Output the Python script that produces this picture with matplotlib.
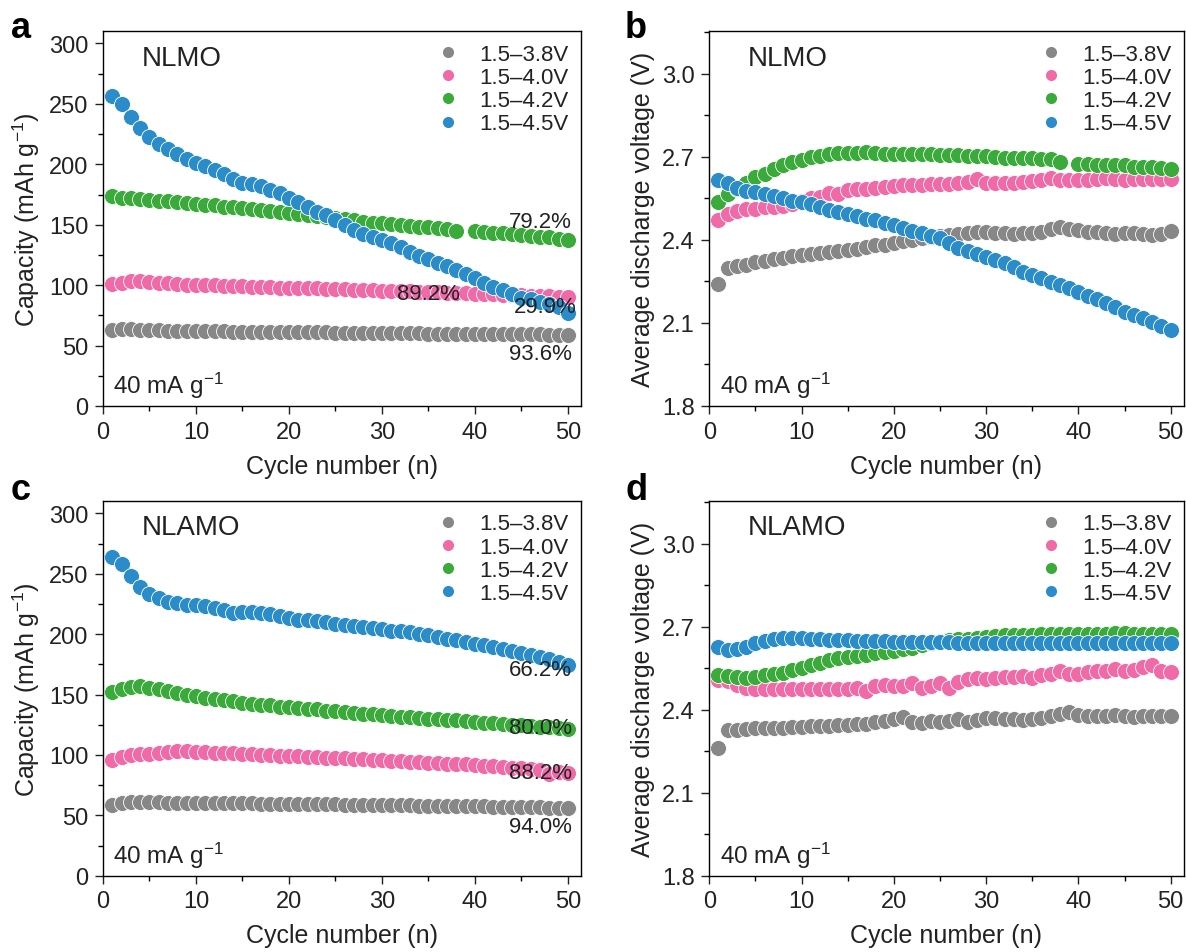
import numpy as np
import matplotlib
matplotlib.use('Agg')
import matplotlib.pyplot as plt
from matplotlib.lines import Line2D

plt.rcParams['font.family'] = ['Liberation Sans', 'DejaVu Sans']
plt.rcParams['mathtext.fontset'] = 'custom'
plt.rcParams['mathtext.rm'] = 'Liberation Sans'
plt.rcParams['mathtext.it'] = 'Liberation Sans:italic'
plt.rcParams['axes.linewidth'] = 1.0

nan = np.nan
cycles = np.arange(1, 51)
labels = ['1.5–3.8V', '1.5–4.0V', '1.5–4.2V', '1.5–4.5V']
colors = ['#878787', '#f06aa8', '#3aaa3a', '#2a8cc8']

# NLMO capacity (a)
cap_nlmo_38 = [63, 64, 63.5, 63, 62.5, 62.5, 62, 62, 62, 62, 62, 61.8, 61.8, 61.5, 61.5, 61.5, 61.3, 61.3, 61, 61,
               61, 61, 60.8, 60.8, 60.5, 60.5, 60.5, 60.3, 60.3, 60.2, 60, 60, 60, 60, 59.8, 59.8, 59.8, 59.6, 59.6, 59.5,
               59.5, 59.4, 59.4, 59.3, 59.3, 59.2, 59.2, 59.1, 59.1, 59]
cap_nlmo_40 = [101, 102, 103, 103.5, 102.5, 102, 101.5, 101, 100.5, 100.3, 100, 99.8, 99.5, 99.3, 99, 98.8, 98.5, 98.3, 98, 98,
               97.8, 97.5, 97.3, 97, 96.8, 96.5, 96.3, 96, 95.8, 95.5, 95.3, 95, 94.8, 94.5, 94.3, 94, 93.8, 93.5, 93.3, 93,
               92.8, 92.5, 92.2, 92, 91.7, 91.4, 91.1, 90.8, 90.5, 90.2]
cap_nlmo_42 = [173.5, 172.5, 172, 171.5, 170.5, 170, 169.5, 169, 168, 167.5, 166.5, 166, 165, 164.5, 163.5, 163, 162, 161.5, 160.5, 160,
               159, 158, 157, 156, 155.5, 154.5, 153.5, 152.5, 151.5, 151, 150.5, 150, 149, 148.5, 148, 147, 146.5, 145, nan, 144.5,
               144, 143.5, 143, 142, 141.5, 141, 140, 139.5, 138.5, 137.5]
cap_nlmo_45 = [256.8, 249.6, 239.5, 229.8, 222.4, 216.9, 212.5, 208.6, 204.8, 200.9, 198.2, 194.9, 191.6, 187.7, 184.4, 183.3, 181.7, 178.9, 176.2, 172.3,
               168.5, 164.6, 160.7, 158, 154.1, 149.7, 145.9, 142.6, 139.8, 137.1, 134.9, 131.6, 127.7, 124.4, 121.7, 118.4, 115.6, 112.9, 109.6, 105.7,
               101.8, 98.5, 95.8, 92.5, 89.7, 88.1, 85.9, 84.2, 81.5, 77.1]

# NLMO average discharge voltage (b)
v_nlmo_38 = [2.24, 2.30, 2.305, 2.31, 2.32, 2.325, 2.33, 2.335, 2.34, 2.345, 2.35, 2.352, 2.355, 2.36, 2.363, 2.368, 2.375, 2.38, 2.382, 2.39,
             2.395, 2.40, 2.405, 2.41, 2.415, 2.418, 2.42, 2.425, 2.43, 2.43, 2.425, 2.425, 2.42, 2.425, 2.425, 2.43, 2.44, 2.445, 2.44, 2.435,
             2.43, 2.43, 2.425, 2.42, 2.423, 2.425, 2.42, 2.418, 2.42, 2.432]
v_nlmo_40 = [2.47, 2.495, 2.505, 2.51, 2.513, 2.517, 2.52, 2.522, 2.53, 2.54, 2.55, 2.555, 2.57, 2.565, 2.58, 2.583, 2.585, 2.588, 2.59, 2.593,
             2.597, 2.598, 2.598, 2.60, 2.60, 2.603, 2.605, 2.61, 2.618, 2.607, 2.605, 2.605, 2.607, 2.61, 2.612, 2.615, 2.622, 2.615, 2.615, 2.617,
             2.617, 2.618, 2.622, 2.62, 2.617, 2.618, 2.62, 2.62, 2.62, 2.62]
v_nlmo_42 = [2.537, 2.567, 2.585, 2.605, 2.626, 2.638, 2.656, 2.67, 2.68, 2.689, 2.698, 2.704, 2.71, 2.713, 2.714, 2.713, 2.716, 2.712, 2.711, 2.711,
             2.71, 2.71, 2.709, 2.709, 2.708, 2.706, 2.705, 2.704, 2.703, 2.702, 2.698, 2.697, 2.696, 2.695, 2.694, 2.693, 2.691, 2.683, nan, 2.674,
             2.673, 2.672, 2.672, 2.671, 2.67, 2.664, 2.663, 2.662, 2.661, 2.656]
v_nlmo_45 = [2.617, 2.605, 2.587, 2.578, 2.572, 2.566, 2.56, 2.552, 2.542, 2.537, 2.528, 2.519, 2.509, 2.50, 2.492, 2.485, 2.477, 2.471, 2.461, 2.453,
             2.441, 2.432, 2.423, 2.413, 2.405, 2.387, 2.372, 2.36, 2.349, 2.339, 2.327, 2.315, 2.303, 2.285, 2.273, 2.261, 2.249, 2.237, 2.225, 2.213,
             2.198, 2.186, 2.171, 2.159, 2.141, 2.129, 2.117, 2.105, 2.087, 2.075]

# NLAMO capacity (c)
cap_nlamo_38 = [58.5, 60.5, 61, 61, 60.8, 60.7, 60.6, 60.5, 60.5, 60.4, 60.3, 60.2, 60.2, 60.1, 60, 59.9, 59.8, 59.7, 59.6, 59.5,
                59.4, 59.3, 59.2, 59.1, 59, 58.9, 58.8, 58.7, 58.6, 58.5, 58.4, 58.3, 58.2, 58.1, 58, 57.9, 57.8, 57.7, 57.6, 57.5,
                57.4, 57.3, 57.2, 57.0, 56.9, 56.7, 56.6, 56.4, 56.2, 56]
cap_nlamo_40 = [96, 98.5, 99.7, 100.6, 101.1, 101.9, 102.5, 103, 103.3, 102.8, 102.2, 101.8, 101.5, 101.2, 100.8, 100.5, 100.2, 99.9, 99.5, 99.2,
                98.9, 98.5, 98.2, 97.8, 97.5, 97.1, 96.8, 96.4, 96, 95.6, 95.3, 94.9, 94.5, 94.1, 93.7, 93.3, 92.9, 92.5, 92.1, 91.6,
                91.2, 90.7, 90.2, 89.6, 89, 88.2, 87.3, 84.5, 86, 85.4]
cap_nlamo_42 = [152, 154.8, 156.2, 157, 155.4, 154.3, 152.6, 151.5, 149.9, 148.8, 147.1, 146, 145.2, 144.4, 143.3, 142.4, 141.6, 141, 139.7, 139.4,
                138.8, 138.3, 137.7, 136.6, 136.1, 135.5, 134.7, 134.2, 133.6, 133.3, 132.2, 131.4, 131.1, 130.6, 130, 129.5, 128.9, 128.7, 127.8, 127.3,
                126.7, 126.2, 125.9, 125.1, 124.5, 124, 123.4, 123.1, 122.3, 121.8]
cap_nlamo_45 = [263.6, 258.1, 248.5, 238.8, 233.3, 229.8, 227, 225.9, 224.5, 223.7, 223.1, 221.8, 219.6, 217.6, 218.7, 218.2, 217.6, 216.8, 215.4, 213.2,
                212.1, 211.3, 210.5, 209.9, 208.5, 207.7, 206.6, 205.8, 205, 204.4, 203, 202.2, 201.7, 200.3, 198.9, 197.5, 196.1, 194.8, 193.4, 192,
                190.6, 189.3, 187.9, 186, 184.3, 182.4, 181, 179.1, 176.9, 174.1]

# NLAMO average discharge voltage (d)
v_nlamo_38 = [2.26, 2.325, 2.327, 2.33, 2.332, 2.333, 2.335, 2.335, 2.337, 2.338, 2.34, 2.34, 2.342, 2.343, 2.345, 2.347, 2.35, 2.357, 2.36, 2.365,
              2.372, 2.355, 2.352, 2.36, 2.357, 2.36, 2.365, 2.355, 2.362, 2.37, 2.37, 2.367, 2.365, 2.362, 2.365, 2.37, 2.377, 2.383, 2.39, 2.382,
              2.378, 2.378, 2.378, 2.38, 2.378, 2.375, 2.377, 2.378, 2.376, 2.378]
v_nlamo_40 = [2.508, 2.502, 2.488, 2.478, 2.476, 2.476, 2.476, 2.476, 2.476, 2.475, 2.476, 2.476, 2.474, 2.474, 2.476, 2.478, 2.466, 2.486, 2.488, 2.487,
              2.487, 2.496, 2.48, 2.487, 2.498, 2.48, 2.5, 2.51, 2.514, 2.512, 2.515, 2.517, 2.518, 2.522, 2.515, 2.526, 2.53, 2.538, 2.528, 2.528,
              2.535, 2.54, 2.538, 2.548, 2.54, 2.545, 2.555, 2.56, 2.54, 2.535]
v_nlamo_42 = [2.526, 2.522, 2.519, 2.516, 2.518, 2.524, 2.528, 2.534, 2.542, 2.55, 2.56, 2.57, 2.578, 2.586, 2.59, 2.594, 2.599, 2.604, 2.609, 2.613,
              2.618, 2.622, 2.632, 2.642, 2.646, 2.65, 2.654, 2.657, 2.66, 2.663, 2.666, 2.668, 2.669, 2.67, 2.671, 2.672, 2.672, 2.673, 2.674, 2.674,
              2.675, 2.675, 2.675, 2.676, 2.676, 2.675, 2.675, 2.674, 2.674, 2.675]
v_nlamo_45 = [2.628, 2.616, 2.618, 2.628, 2.64, 2.648, 2.655, 2.658, 2.658, 2.658, 2.656, 2.655, 2.652, 2.65, 2.65, 2.649, 2.648, 2.648, 2.647, 2.646,
              2.645, 2.645, 2.644, 2.644, 2.643, 2.643, 2.642, 2.642, 2.642, 2.642, 2.641, 2.641, 2.641, 2.641, 2.641, 2.641, 2.641, 2.641, 2.641, 2.641,
              2.641, 2.641, 2.641, 2.641, 2.641, 2.641, 2.641, 2.641, 2.641, 2.642]

ret_nlmo = ['93.6%', '89.2%', '79.2%', '29.9%']
ret_nlamo = ['94.0%', '88.2%', '80.0%', '66.2%']

FS_TICK = 17
FS_LAB = 18
FS_LEG = 16

fig = plt.figure(figsize=(11.86, 9.53), dpi=100)
ax_a = fig.add_axes([0.0868, 0.573, 0.403, 0.393])
ax_b = fig.add_axes([0.598, 0.573, 0.400, 0.393])
ax_c = fig.add_axes([0.0868, 0.080, 0.403, 0.393])
ax_d = fig.add_axes([0.598, 0.080, 0.400, 0.393])


def draw_panel(ax, series, name, ylabel, ylim, major, minor):
    for y, c in zip(series, colors):
        ax.plot(cycles, y, 'o', ls='none', ms=11.5, mfc=c, mec='white', mew=0.6)
    ax.set_xlim(0, 51.4)
    ax.set_ylim(*ylim)
    ax.set_xticks(np.arange(0, 51, 10))
    ax.set_xticks(np.arange(5, 51, 10), minor=True)
    ax.set_yticks(major)
    ax.set_yticks(minor, minor=True)
    ax.tick_params(which='major', direction='out', length=5.5, width=1.0, pad=5,
                   labelsize=FS_TICK, colors='#222222')
    ax.tick_params(which='minor', direction='out', length=3.5, width=1.0)
    ax.set_xlabel('Cycle number (n)', fontsize=FS_LAB, color='#222222', labelpad=8)
    ax.set_ylabel(ylabel, fontsize=FS_LAB, color='#222222', labelpad=5)
    ax.text(0.082, 0.93, name, transform=ax.transAxes, fontsize=20, va='center', color='#222222')
    ax.text(0.022, 0.055, r'40 mA g$^{-1}$', transform=ax.transAxes, fontsize=17.5, va='center', color='#222222')
    handles = [Line2D([], [], marker='o', ls='none', ms=8, mfc=c, mec='none') for c in colors]
    leg = ax.legend(handles, labels, loc='upper right', frameon=False, fontsize=FS_LEG,
                    handlelength=1.0, handletextpad=0.9, labelspacing=0.1,
                    borderpad=0.25, borderaxespad=0.3)
    for t in leg.get_texts():
        t.set_color('#222222')


cap_label = r'Capacity (mAh g$^{-1}$)'
volt_label = 'Average discharge voltage (V)'
cap_major = np.arange(0, 301, 50)
cap_minor = np.arange(25, 301, 50)
v_major = [1.8, 2.1, 2.4, 2.7, 3.0]
v_minor = [1.95, 2.25, 2.55, 2.85, 3.15]

draw_panel(ax_a, [cap_nlmo_38, cap_nlmo_40, cap_nlmo_42, cap_nlmo_45], 'NLMO', cap_label, (0, 310), cap_major, cap_minor)
draw_panel(ax_b, [v_nlmo_38, v_nlmo_40, v_nlmo_42, v_nlmo_45], 'NLMO', volt_label, (1.8, 3.153), v_major, v_minor)
draw_panel(ax_c, [cap_nlamo_38, cap_nlamo_40, cap_nlamo_42, cap_nlamo_45], 'NLAMO', cap_label, (0, 310), cap_major, cap_minor)
draw_panel(ax_d, [v_nlamo_38, v_nlamo_40, v_nlamo_42, v_nlamo_45], 'NLAMO', volt_label, (1.8, 3.153), v_major, v_minor)
ax_b.yaxis.set_major_formatter(matplotlib.ticker.FormatStrFormatter('%.1f'))
ax_d.yaxis.set_major_formatter(matplotlib.ticker.FormatStrFormatter('%.1f'))

# retention labels
kw = dict(va='center', fontsize=FS_LEG, color='#222222')
ax_a.text(50.4, 43.5, ret_nlmo[0], ha='right', **kw)
ax_a.text(35, 93.3, ret_nlmo[1], ha='center', **kw)
ax_a.text(50.4, 153, ret_nlmo[2], ha='right', **kw)
ax_a.text(50.9, 82.6, ret_nlmo[3], ha='right', **kw)
ax_c.text(50.4, 40.5, ret_nlamo[0], ha='right', **kw)
ax_c.text(50.4, 85.4, ret_nlamo[1], ha='right', **kw)
ax_c.text(50.4, 123, ret_nlamo[2], ha='right', **kw)
ax_c.text(50.4, 171, ret_nlamo[3], ha='right', **kw)

for lab, x, y in [('a', 0.009, 0.960), ('b', 0.527, 0.960), ('c', 0.009, 0.475), ('d', 0.527, 0.475)]:
    fig.text(x, y, lab, fontsize=26, fontweight='bold', va='baseline')

plt.savefig('out.png', dpi=100)
